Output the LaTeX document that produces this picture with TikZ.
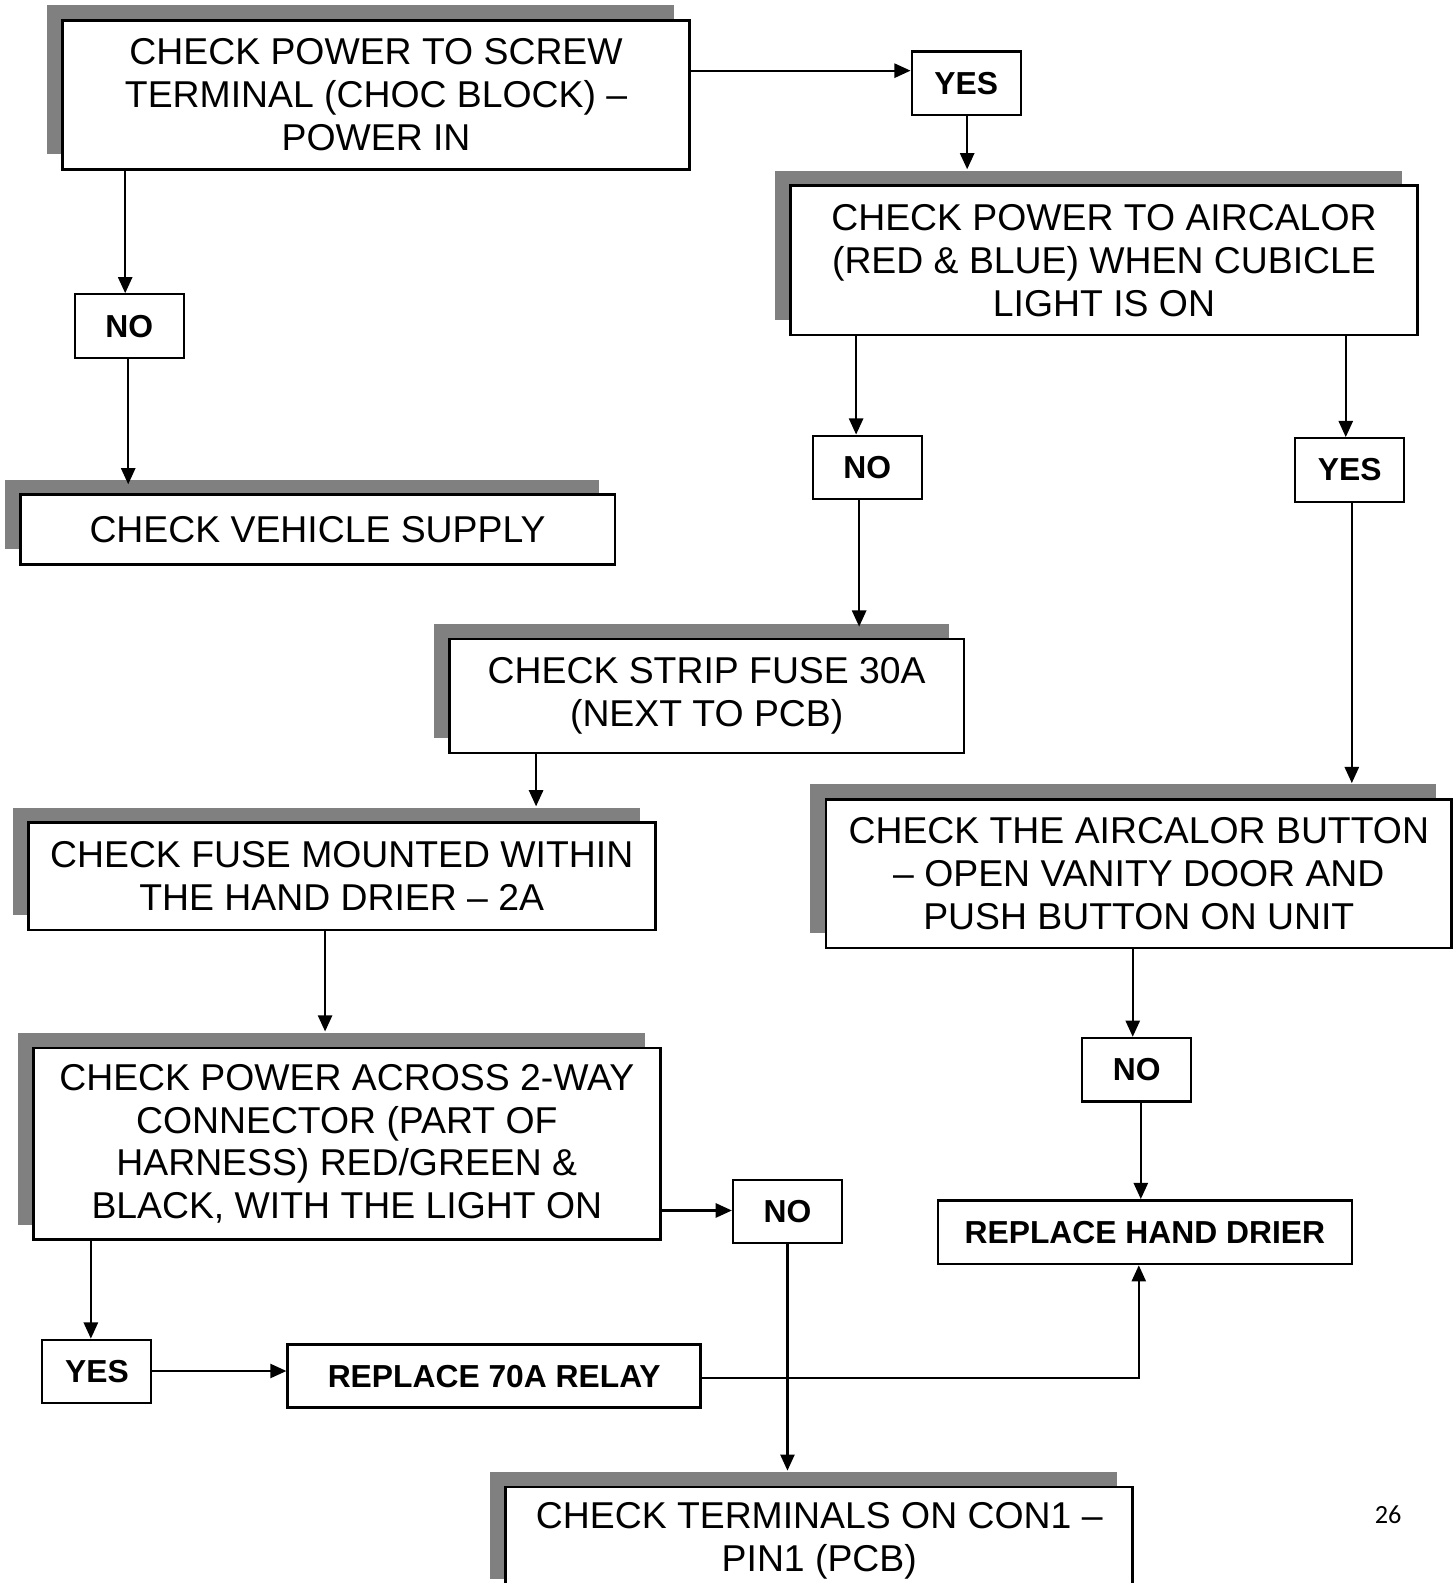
\documentclass[tikz,border=0pt]{standalone}
\usepackage{fontspec}
\setmainfont{Liberation Sans}
\newfontfamily\pgnumfont{Carlito}
\usetikzlibrary{arrows.meta,shadows}
\definecolor{shadowgray}{HTML}{808080}
\newcommand\mybigfont{\fontsize{37}{42.5}\selectfont}
\newcommand\mylabfont{\fontsize{31.5}{36}\selectfont\bfseries}
\tikzset{
  bigbox/.style={draw, line width=2.6pt, fill=white, align=center, inner sep=0pt,
    font=\mybigfont,
    general shadow={fill=shadowgray, shadow xshift=-15.5pt, shadow yshift=15pt}},
  plainbox/.style={draw, line width=2.6pt, fill=white, align=center, inner sep=0pt, font=\mylabfont},
  lab/.style={draw, line width=2.1pt, fill=white, align=center, inner sep=0pt,
    font=\mylabfont, minimum width=108pt, minimum height=63pt},
  arr/.style={line width=2.2pt, -{Triangle[length=16pt,width=14pt]}},
}
\begin{document}
\begin{tikzpicture}[x=1pt,y=-1pt]
\clip (0,0) rectangle (1441,1568);
\fill[white] (0,0) rectangle (1441,1568);

% big boxes
\node[bigbox, minimum width=621pt, minimum height=148pt] (A) at (372.5,94)
  {CHECK POWER TO SCREW\\TERMINAL (CHOC BLOCK) –\\POWER IN};
\node[bigbox, minimum width=621pt, minimum height=148pt] (B) at (1093.5,258)
  {CHECK POWER TO AIRCALOR\\(RED \& BLUE) WHEN CUBICLE\\LIGHT IS ON};
\node[bigbox, minimum width=589pt, minimum height=69pt] (VS) at (314.5,524.5)
  {CHECK VEHICLE SUPPLY};
\node[bigbox, minimum width=510pt, minimum height=113pt] (Strip) at (700,689.5)
  {CHECK STRIP FUSE 30A\\(NEXT TO PCB)};
\node[bigbox, minimum width=620pt, minimum height=147pt] (Btn) at (1128,865.5)
  {CHECK THE AIRCALOR BUTTON\\– OPEN VANITY DOOR AND\\PUSH BUTTON ON UNIT};
\node[bigbox, minimum width=621pt, minimum height=106pt] (Fuse) at (338.5,868)
  {CHECK FUSE MOUNTED WITHIN\\THE HAND DRIER – 2A};
\node[bigbox, minimum width=621pt, minimum height=190pt] (Across) at (343.5,1133)
  {CHECK POWER ACROSS 2-WAY\\CONNECTOR (PART OF\\HARNESS) RED/GREEN \&\\BLACK, WITH THE LIGHT ON};
\node[bigbox, minimum width=621pt, minimum height=106pt] (Con1) at (811.5,1526)
  {CHECK TERMINALS ON CON1 –\\PIN1 (PCB)};

% plain boxes
\node[plainbox, minimum width=410pt, minimum height=63pt] (HD) at (1134,1220.5)
  {REPLACE HAND DRIER};
\node[plainbox, minimum width=409pt, minimum height=62pt] (Relay) at (489.5,1363)
  {REPLACE 70A RELAY};

% labels
\node[lab] (YES1) at (957,82.5) {YES};
\node[lab] (NO1) at (128,323) {NO};
\node[lab] (NO2) at (859,463) {NO};
\node[lab] (YES2) at (1337,465.5) {YES};
\node[lab] (NO3) at (780,1200) {NO};
\node[lab] (NO4) at (1126,1059.5) {NO};
\node[lab] (YES3) at (96,1358.5) {YES};

\node[font=\pgnumfont\fontsize{26}{30}\selectfont] (pg) at (1375,1500) {26};

% connectors
\draw[arr] ([yshift=24pt]A.east) -- ([yshift=12.5pt]YES1.west);
\draw[arr] ([xshift=1pt]YES1.south) -- ([xshift=-135.5pt,yshift=15pt]B.north);
\draw[arr] ([xshift=-248.5pt]A.south) -- ([xshift=-4pt]NO1.north);
\draw[arr] ([xshift=-1pt]NO1.south) -- ([xshift=-187.5pt,yshift=9pt]VS.north);
\draw[arr] ([xshift=-245.5pt]B.south) -- ([xshift=-11pt]NO2.north);
\draw[arr] ([xshift=239.5pt]B.south) -- ([xshift=-4pt]YES2.north);
\draw[arr] ([xshift=-8pt]NO2.south) -- ([xshift=151pt,yshift=11pt]Strip.north);
\draw[arr] ([xshift=2pt]YES2.south) -- ([xshift=211pt,yshift=15pt]Btn.north);
\draw[arr] ([xshift=-169pt]Strip.south) -- ([xshift=192.5pt,yshift=15pt]Fuse.north);
\draw[arr] ([xshift=-16.5pt]Fuse.south) -- ([xshift=-21.5pt,yshift=15pt]Across.north);
\draw[arr] ([yshift=-66pt]Across.east) -- ([yshift=1pt]NO3.west);
\draw[arr] ([xshift=-6pt]Btn.south) -- ([xshift=-4pt]NO4.north);
\draw[arr] ([xshift=4pt]NO4.south) -- ([xshift=-4pt]HD.north);
\draw[arr] ([xshift=-253.5pt]Across.south) -- ([xshift=-6pt]YES3.north);
\draw[arr] ([yshift=0.5pt]YES3.east) -- ([yshift=0.5pt]YES3.east -| Relay.west);
\draw[arr] ([yshift=-2pt]Relay.east) -| ([xshift=-6pt]HD.south);
\draw[arr] (NO3.south) -- ([xshift=-31.5pt,yshift=15pt]Con1.north);
\end{tikzpicture}
\end{document}
